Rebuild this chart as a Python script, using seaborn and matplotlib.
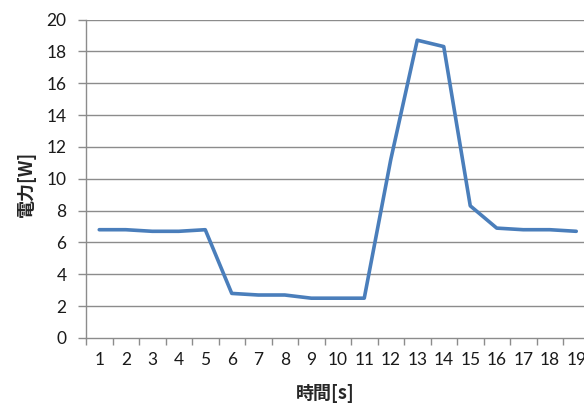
import matplotlib
matplotlib.use("Agg")
import matplotlib.pyplot as plt
import seaborn as sns
import pandas as pd
import numpy as np

times = [str(i) for i in range(1, 20)]
power = [6.8, 6.8, 6.7, 6.7, 6.8, 2.8, 2.7, 2.7, 2.5, 2.5, 2.5, 11.2, 18.7, 18.3, 8.3, 6.9, 6.8, 6.8, 6.7]
y_ticks = [0, 2, 4, 6, 8, 10, 12, 14, 16, 18, 20]

sns.set_theme(style="white")
plt.rcParams['font.family'] = ['Lato', 'Noto Sans CJK JP', 'DejaVu Sans']

df = pd.DataFrame({"pos": np.arange(len(times)), "power": power})

fig = plt.figure(figsize=(5.84, 4.05), dpi=100)
ax = fig.add_axes([86/584, 1 - 338/405, 503.5/584, (338 - 19.5)/405])

sns.lineplot(data=df, x="pos", y="power", ax=ax, color="#4A7EBB", linewidth=2.6)

grid_c = "#8C8C8C"
ax.set_ylim(0, 20)
ax.set_yticks(y_ticks)
ax.set_yticklabels([str(v) for v in y_ticks], fontsize=12.5, color="#1a1a1a")
for v in y_ticks[1:]:
    ax.axhline(v, color=grid_c, linewidth=1.0, zorder=0)

ax.set_xlim(-0.5, len(times) - 0.5)
ax.set_xticks(np.arange(-0.5, len(times), 1.0))
ax.set_xticklabels([])
ax.set_xticks(np.arange(len(times)), minor=True)
ax.set_xticklabels(times, minor=True, fontsize=12.5, color="#1a1a1a")
ax.tick_params(axis="x", which="major", direction="out", length=5, width=1, color=grid_c, bottom=True)
ax.tick_params(axis="x", which="minor", length=0, pad=10)
ax.tick_params(axis="y", direction="out", length=6, width=1, color=grid_c, left=True, pad=8)

for s in ["top", "right"]:
    ax.spines[s].set_visible(False)
for s in ["left", "bottom"]:
    ax.spines[s].set_color(grid_c)
    ax.spines[s].set_linewidth(1.0)

ax.set_xlabel("時間[s]", fontsize=13, fontweight="bold", family=["Noto Sans CJK JP", "DejaVu Sans"])
ax.set_ylabel("電力[W]", fontsize=13, fontweight="bold", family=["Noto Sans CJK JP", "DejaVu Sans"])
ax.xaxis.set_label_coords((325 - 86) / 503.5, -(384 - 338) / 318.5)
ax.yaxis.set_label_coords(-(86 - 36) / 503.5, (338 - 184) / 318.5)

fig.savefig("out.png", dpi=100)
